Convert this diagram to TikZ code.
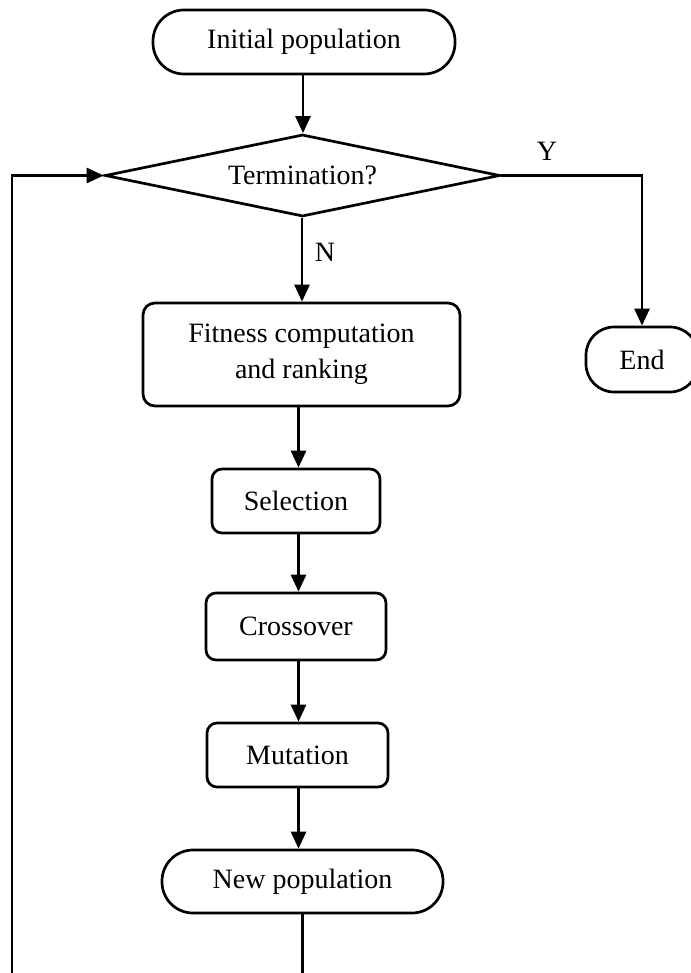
\documentclass[tikz,border=0pt]{standalone}
\usepackage{fontspec}
\setmainfont{Liberation Serif}
\usetikzlibrary{shapes.geometric,arrows.meta}

\begin{document}
\begin{tikzpicture}[x=0.5pt,y=-0.5pt,
  every node/.style={font=\fontsize{14}{16}\selectfont, inner sep=0pt, align=center},
  line/.style={line width=1.35pt, line join=miter},
  arr/.style={line, -{Triangle[length=8.5pt,width=7.5pt]}},
  stadium/.style={line, draw, rounded corners=15.5pt},
  procbox/.style={line, draw, rounded corners=5pt},
  decision/.style={line, draw, diamond, aspect=4.8, minimum width=197.5pt, minimum height=41pt},
  lbl/.style={font=\fontsize{14}{16}\selectfont}
]
\useasboundingbox (0,0) rectangle (690,973);

% flowchart steps
\node[stadium, minimum width=151pt, minimum height=32pt] (init) at (304,42) {Initial population};
\node[decision] (term) at (302.5,175.5) {Termination?};
\node[procbox, rounded corners=6pt, minimum width=158.5pt, minimum height=51.5pt] (fit) at (301.5,354.5)
  {Fitness computation\\[2pt]and ranking};
\node[procbox, minimum width=84pt, minimum height=32pt] (sel) at (296,501) {Selection};
\node[procbox, minimum width=90pt, minimum height=33.5pt] (cro) at (296,626.5) {Crossover};
\node[procbox, minimum width=90.5pt, minimum height=32pt] (mut) at (297.5,755) {Mutation};
\node[stadium, minimum width=140.5pt, minimum height=31.5pt] (newp) at (302.5,881.5) {New population};
\node[line, draw, rounded corners=14pt, minimum width=56pt, minimum height=32.5pt] (endn) at (642,359.5) {End};

% branch labels
\node[lbl] (ylab) at (547,151) {Y};
\node[lbl] (nlab) at (325,252) {N};

% connectors
\coordinate (c1) at (303,0);
\coordinate (c2) at (302,0);
\coordinate (c3) at (298.5,0);
\coordinate (loop) at (12,995);

\draw[arr] (init.south -| c1) -- (term.north -| c1);
\draw[arr] (term.south -| c2) -- (fit.north -| c2);
\draw[arr] (fit.south -| c3) -- (sel.north -| c3);
\draw[arr] (sel.south -| c3) -- (cro.north -| c3);
\draw[arr] (cro.south -| c3) -- (mut.north -| c3);
\draw[arr] (mut.south -| c3) -- (newp.north -| c3);
\draw[arr] (term.east) -| (endn.north);
\draw[arr] (newp.south) |- (loop) |- (term.west);
\end{tikzpicture}
\end{document}
